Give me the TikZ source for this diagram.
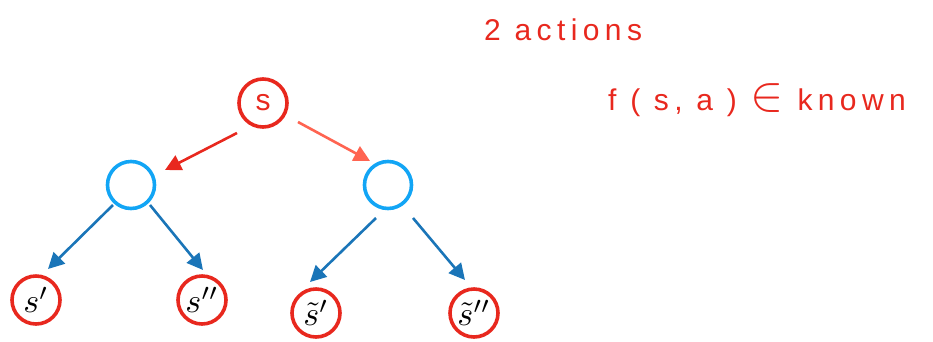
\documentclass[tikz,border=0pt]{standalone}
\usepackage{graphicx}
\usepackage{fontspec}
\newfontfamily\hand[LetterSpace=18]{Liberation Sans}
\usetikzlibrary{arrows.meta}
\definecolor{cred}{HTML}{E8281E}
\definecolor{csalmon}{HTML}{FF6451}
\definecolor{cblue}{HTML}{12A5F5}
\definecolor{cdblue}{HTML}{1A75B8}
\newcommand{\leafmath}[1]{\scalebox{3.4}{$#1$}}
\tikzset{
  statenode/.style={circle,draw=cred,line width=3.6pt,minimum size=48pt,inner sep=0pt},
  actnode/.style={circle,draw=cblue,line width=3.6pt,minimum size=47pt,inner sep=0pt},
  redarrow/.style={draw=cred,line width=2.6pt,-{Triangle[length=16pt,width=16pt]}},
  salarrow/.style={draw=csalmon,line width=2.6pt,-{Triangle[length=16pt,width=16pt]}},
  bluearrow/.style={draw=cdblue,line width=2.6pt,-{Triangle[length=16pt,width=16pt]}},
  note/.style={text=cred,font=\hand\fontsize{30}{30}\selectfont,anchor=west,inner sep=0pt}
}
\begin{document}
\begin{tikzpicture}[x=1pt,y=-1pt]
\useasboundingbox (0,0) rectangle (933,341);
\node[statenode] (s) at (263,103) {\color{cred}\hand\fontsize{30}{30}\selectfont s};
\node[actnode] (a1) at (131,185) {};
\node[actnode] (a2) at (388,185) {};
\node[statenode] (s1) at (36,300) {\leafmath{s'}};
\node[statenode] (s2) at (202,300) {\leafmath{s''}};
\node[statenode] (t1) at (316,313) {\leafmath{\tilde{s}'}};
\node[statenode] (t2) at (474,313) {\leafmath{\tilde{s}''}};
\coordinate (p1) at (237,133); \coordinate (q1) at (165,170);
\coordinate (p2) at (298,122); \coordinate (q2) at (370,161);
\coordinate (p3) at (113,205); \coordinate (q3) at (48,269);
\coordinate (p4) at (150,205); \coordinate (q4) at (203,270);
\coordinate (p5) at (376,218); \coordinate (q5) at (310,282);
\coordinate (p6) at (413,218); \coordinate (q6) at (465,280);
\draw[redarrow] (p1) -- (q1);
\draw[salarrow] (p2) -- (q2);
\draw[bluearrow] (p3) -- (q3);
\draw[bluearrow] (p4) -- (q4);
\draw[bluearrow] (p5) -- (q5);
\draw[bluearrow] (p6) -- (q6);
\node[note] (n1) at (484,30) {2 actions};
\node[note] (n2) at (608,100) {f ( s, a ) \scalebox{2}{$\in$} known};
\end{tikzpicture}
\end{document}
